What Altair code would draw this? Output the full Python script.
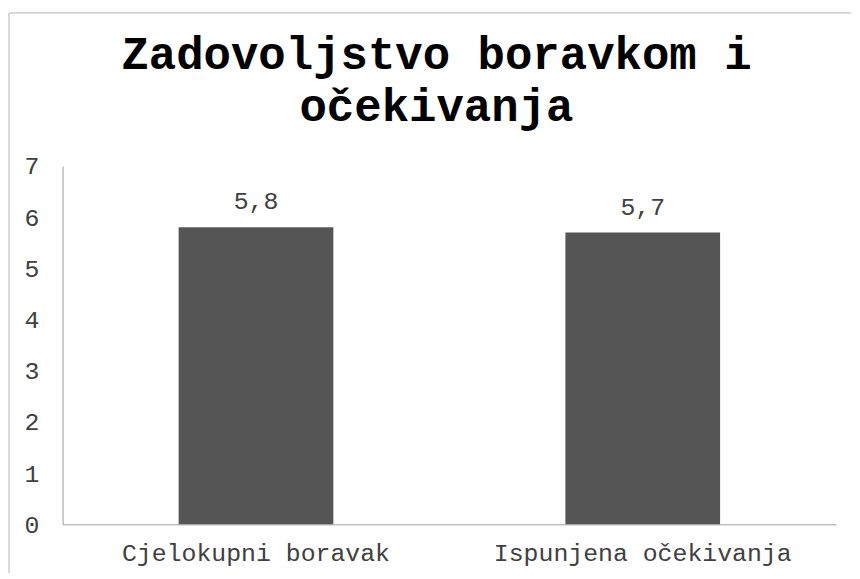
import altair as alt
import pandas as pd

categories = ["Cjelokupni boravak", "Ispunjena očekivanja"]
values = [5.8, 5.7]
value_labels = ["5,8", "5,7"]
y_ticks = [0, 1, 2, 3, 4, 5, 6, 7]
title_lines = ["Zadovoljstvo boravkom i", "očekivanja"]

FONT = "Courier New, Liberation Mono, monospace"
TEXT_COLOR = "#404040"

df = pd.DataFrame({"cat": categories, "val": values, "lab": value_labels})

x_enc = alt.X(
    "cat:N",
    sort=categories,
    title=None,
    scale=alt.Scale(paddingInner=0.6, paddingOuter=0.3),
    axis=alt.Axis(
        labelAngle=0, ticks=False, domainColor="#a0a0a0", labelFontSize=25,
        labelPadding=16, labelColor=TEXT_COLOR, labelFont=FONT, labelLimit=1000,
    ),
)
y_enc = alt.Y(
    "val:Q",
    title=None,
    scale=alt.Scale(domain=[0, 7]),
    axis=alt.Axis(
        values=y_ticks, grid=False, ticks=False, domainColor="#a0a0a0",
        labelFontSize=25, labelPadding=24, labelColor=TEXT_COLOR, labelFont=FONT,
    ),
)

base = alt.Chart(df)
bars = base.mark_bar(color="#555555").encode(x=x_enc, y=y_enc)
text = base.mark_text(
    baseline="alphabetic", dy=-18, fontSize=25, font=FONT, color=TEXT_COLOR
).encode(x=x_enc, y=y_enc, text="lab:N")

frame_df = pd.DataFrame({"k": [0]})
top_line = alt.Chart(frame_df).mark_rule(color="#b4b4b4", strokeWidth=1).encode(
    x=alt.value(-54), x2=alt.value(794), y=alt.value(-154)
)
left_line = alt.Chart(frame_df).mark_rule(color="#b4b4b4", strokeWidth=1).encode(
    x=alt.value(-54), y=alt.value(-154), y2=alt.value(410)
)

chart = alt.layer(top_line, left_line, bars, text).properties(
    width=779,
    height=361,
    padding={"left": 0, "top": 2, "right": 0, "bottom": 0},
    title=alt.TitleParams(
        title_lines, fontSize=46, font=FONT, fontWeight="bold", lineHeight=52,
        color="black", anchor="middle", frame="group", dx=-13, offset=-119,
    ),
).configure_view(stroke=None)

chart.save("out.html", embed_options={"renderer": "svg", "actions": False})
